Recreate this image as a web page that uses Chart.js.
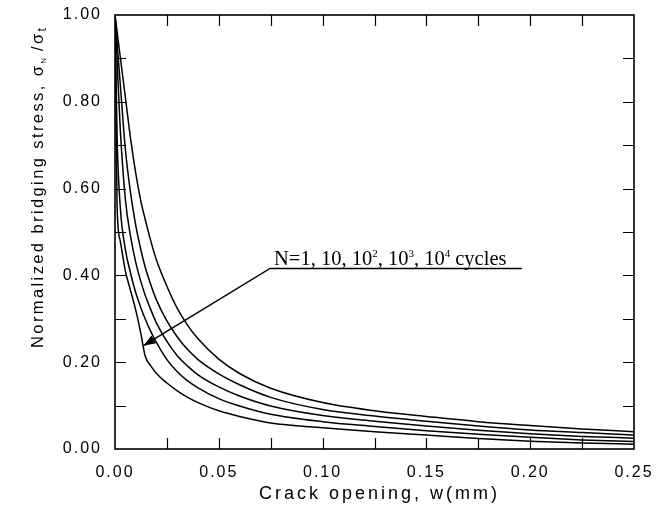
<!DOCTYPE html>
<html><head><meta charset="utf-8">
<script src="https://cdn.jsdelivr.net/npm/chart.js@4/dist/chart.umd.min.js"></script>
<style>html,body{margin:0;padding:0;background:#fff;}#wrap{width:656px;height:512px;}</style>
</head><body><div id="wrap"><canvas id="c" width="656" height="512"></canvas></div>
<script>
// ---- data ----
const crackOpening = [0, 0.001, 0.0025, 0.005, 0.0075, 0.01, 0.0125, 0.0145, 0.0175, 0.02, 0.025, 0.03, 0.035, 0.04, 0.05, 0.06, 0.075, 0.1, 0.125, 0.15, 0.175, 0.2, 0.225, 0.25];
const stressN1     = [1, 0.962, 0.905, 0.81, 0.715, 0.635, 0.57, 0.53, 0.475, 0.435, 0.375, 0.324, 0.285, 0.254, 0.207, 0.174, 0.140, 0.107, 0.088, 0.075, 0.063, 0.054, 0.046, 0.040];
const stressN10    = [1, 0.937, 0.843, 0.69, 0.59, 0.515, 0.458, 0.42, 0.375, 0.343, 0.295, 0.258, 0.229, 0.206, 0.173, 0.148, 0.119, 0.091, 0.076, 0.064, 0.053, 0.044, 0.038, 0.032];
const stressN100   = [1, 0.895, 0.74, 0.575, 0.49, 0.43, 0.385, 0.355, 0.318, 0.29, 0.248, 0.215, 0.191, 0.171, 0.143, 0.122, 0.099, 0.077, 0.064, 0.053, 0.043, 0.035, 0.029, 0.025];
const stressN1000  = [1, 0.72, 0.56, 0.46, 0.405, 0.36, 0.325, 0.30, 0.268, 0.245, 0.206, 0.178, 0.157, 0.141, 0.116, 0.099, 0.080, 0.063, 0.052, 0.042, 0.034, 0.027, 0.021, 0.017];
const stressN10000 = [1, 0.56, 0.48, 0.41, 0.365, 0.32, 0.265, 0.215, 0.19, 0.174, 0.152, 0.134, 0.119, 0.107, 0.088, 0.075, 0.060, 0.049, 0.040, 0.032, 0.024, 0.018, 0.014, 0.011];
const seriesNames  = ['N=1', 'N=10', 'N=10²', 'N=10³', 'N=10⁴'];
const xTickLabels  = ['0.00', '0.05', '0.10', '0.15', '0.20', '0.25'];
const yTickLabels  = ['0.00', '0.20', '0.40', '0.60', '0.80', '1.00'];
const xTickMarks   = [0.025, 0.05, 0.075, 0.1, 0.125, 0.15, 0.175, 0.2, 0.225];
const yTickMarks   = [0.1, 0.2, 0.3, 0.4, 0.5, 0.6, 0.7, 0.8, 0.9];
const arrowPath    = [[0.0137, 0.238], [0.0747, 0.416], [0.196, 0.416]];
const noteAnchor   = [0.0766, 0.425];
const noteParts    = [['N=1, 10, 10', 0], ['2', 1], [', 10', 0], ['3', 1], [', 10', 0], ['4', 1], [' cycles', 0]];
const xTitle = 'Crack opening, w(mm)';
const yTitleParts  = [['Normalized bridging stress, σ', 0], ['N', 1], [' /σ', 0], ['t', 2]];

const allSeries = [stressN1, stressN10, stressN100, stressN1000, stressN10000];

const datasets = allSeries.map((s, i) => ({
  label: seriesNames[i],
  data: crackOpening.map((w, j) => ({x: w, y: s[j]})),
  borderColor: '#000', borderWidth: 1.5, pointRadius: 0,
  cubicInterpolationMode: 'monotone', fill: false
}));

const SANS = '"Liberation Sans", Arial, Helvetica, sans-serif';
const SERIF = '"Liberation Serif", "Times New Roman", serif';

function noPad(s) { s.paddingTop = 0; s.paddingBottom = 0; s.paddingLeft = 0; s.paddingRight = 0; }

const decor = {
  id: 'decor',
  beforeDraw(chart) { chart.ctx.letterSpacing = '2px'; },
  afterDatasetsDraw(chart) {
    const ctx = chart.ctx, a = chart.chartArea, xs = chart.scales.x, ys = chart.scales.y;
    ctx.save();
    ctx.strokeStyle = '#000';
    ctx.lineWidth = 1.6;
    ctx.strokeRect(a.left, a.top, a.right - a.left, a.bottom - a.top);
    ctx.lineWidth = 1.2;
    ctx.beginPath();
    xTickMarks.forEach(v => {
      const p = Math.round(xs.getPixelForValue(v)) + 0.5;
      ctx.moveTo(p, a.bottom); ctx.lineTo(p, a.bottom - 11);
      ctx.moveTo(p, a.top); ctx.lineTo(p, a.top + 11);
    });
    yTickMarks.forEach(v => {
      const p = Math.round(ys.getPixelForValue(v)) + 0.5;
      ctx.moveTo(a.left, p); ctx.lineTo(a.left + 11, p);
      ctx.moveTo(a.right, p); ctx.lineTo(a.right - 11, p);
    });
    ctx.stroke();
    // annotation arrow
    const pts = arrowPath.map(([w, v]) => [xs.getPixelForValue(w), ys.getPixelForValue(v)]);
    ctx.lineWidth = 1.5;
    ctx.beginPath();
    ctx.moveTo(pts[0][0], pts[0][1]);
    for (let i = 1; i < pts.length; i++) ctx.lineTo(pts[i][0], pts[i][1]);
    ctx.stroke();
    const ang = Math.atan2(pts[0][1] - pts[1][1], pts[0][0] - pts[1][0]);
    const L = 12, H = 4.5;
    ctx.beginPath();
    ctx.moveTo(pts[0][0], pts[0][1]);
    ctx.lineTo(pts[0][0] - L * Math.cos(ang) + H * Math.sin(ang), pts[0][1] - L * Math.sin(ang) - H * Math.cos(ang));
    ctx.lineTo(pts[0][0] - L * Math.cos(ang) - H * Math.sin(ang), pts[0][1] - L * Math.sin(ang) + H * Math.cos(ang));
    ctx.closePath();
    ctx.fillStyle = '#000';
    ctx.fill();
    // annotation text
    ctx.letterSpacing = '0px';
    ctx.textAlign = 'left';
    ctx.textBaseline = 'alphabetic';
    let tx = xs.getPixelForValue(noteAnchor[0]);
    const ty = ys.getPixelForValue(noteAnchor[1]);
    noteParts.forEach(([t, sup]) => {
      ctx.font = (sup ? '11px ' : '20.5px ') + SERIF;
      ctx.fillText(t, tx, sup ? ty - 8 : ty);
      tx += ctx.measureText(t).width;
    });
    ctx.restore();
  },
  afterDraw(chart) {
    const ctx = chart.ctx, a = chart.chartArea;
    ctx.save();
    ctx.fillStyle = '#000';
    // x title
    ctx.font = '18px ' + SANS;
    ctx.letterSpacing = '3px';
    ctx.textAlign = 'center';
    ctx.textBaseline = 'alphabetic';
    ctx.fillText(xTitle, (a.left + a.right) / 2 + 5, 499);
    // y title
    ctx.translate(43, 348);
    ctx.rotate(-Math.PI / 2);
    ctx.textAlign = 'left';
    let x = 0;
    yTitleParts.forEach(([t, kind]) => {
      if (kind === 0) { ctx.font = '16.5px ' + SANS; ctx.letterSpacing = '2.4px'; ctx.fillText(t, x, 0); }
      else if (kind === 1) { ctx.font = '8px ' + SANS; ctx.letterSpacing = '0px'; ctx.fillText(t, x, 3); }
      else { ctx.font = '12px ' + SANS; ctx.letterSpacing = '0px'; ctx.fillText(t, x, 3); }
      x += ctx.measureText(t).width;
    });
    ctx.restore();
  }
};

new Chart(document.getElementById('c'), {
  type: 'line',
  data: { datasets },
  options: {
    responsive: false, animation: false, devicePixelRatio: 1,
    layout: { padding: { top: 15, right: 22, left: 0, bottom: 0 } },
    plugins: { legend: { display: false }, tooltip: { enabled: false } },
    scales: {
      x: {
        type: 'linear', min: 0, max: 0.25,
        afterFit(s) { s.height = 63; noPad(s); },
        afterBuildTicks(s) { s.ticks = xTickLabels.map(t => ({ value: parseFloat(t) })); },
        ticks: { callback: (v, i) => xTickLabels[i], color: '#000', padding: 14, maxRotation: 0,
                 font: { family: SANS, size: 16 } },
        grid: { display: false, drawTicks: false }, border: { display: false }
      },
      y: {
        type: 'linear', min: 0, max: 1,
        afterFit(s) { s.width = 115; noPad(s); },
        afterBuildTicks(s) { s.ticks = yTickLabels.map(t => ({ value: parseFloat(t) })); },
        ticks: { callback: (v, i) => yTickLabels[i], color: '#000', padding: 13,
                 font: { family: SANS, size: 16 } },
        grid: { display: false, drawTicks: false }, border: { display: false }
      }
    }
  },
  plugins: [decor]
});
</script></body></html>
